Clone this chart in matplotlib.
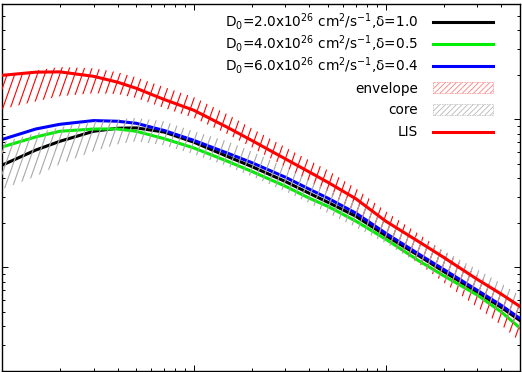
import numpy as np
import matplotlib
matplotlib.use('Agg')
import matplotlib.pyplot as plt
from matplotlib.collections import LineCollection
from matplotlib.lines import Line2D
from matplotlib.patches import Rectangle

# energies (x axis, log scale)
energy = [1, 1.5, 2, 3, 4, 5, 7, 10, 15, 20, 30, 40, 50, 70, 100, 150, 200, 300, 400, 500]

# model curves
d2_delta10 = [4.9, 6.2, 7.1, 8.3, 8.7, 8.75, 8.2, 7.0, 5.6, 4.8, 3.8, 3.16, 2.75, 2.21, 1.64, 1.19, 0.94, 0.68, 0.537, 0.438]
d4_delta05 = [6.5, 7.6, 8.3, 8.6, 8.6, 8.3, 7.4, 6.4, 5.2, 4.45, 3.53, 2.93, 2.58, 2.05, 1.55, 1.10, 0.88, 0.65, 0.50, 0.39]
d6_delta04 = [7.3, 8.6, 9.25, 9.8, 9.7, 9.4, 8.4, 7.2, 5.9, 5.1, 4.06, 3.37, 2.93, 2.32, 1.70, 1.22, 0.97, 0.70, 0.554, 0.452]
lis = [19.8, 20.8, 20.9, 19.5, 17.8, 16.2, 13.6, 11.5, 8.8, 7.2, 5.4, 4.4, 3.75, 2.9, 2.05, 1.48, 1.17, 0.83, 0.66, 0.545]

# bands
envelope_hi = [19.8, 21.4, 22.5, 22.1, 20.8, 19.2, 16.5, 14.1, 10.8, 8.7, 6.47, 5.28, 4.52, 3.42, 2.39, 1.67, 1.28, 0.883, 0.678, 0.554]
envelope_lo = [11.7, 13.2, 14.3, 15.0, 14.8, 13.9, 11.9, 10.2, 7.92, 6.47, 4.74, 3.81, 3.16, 2.32, 1.55, 1.05, 0.792, 0.537, 0.406, 0.316]
core_hi = [6.99, 8.04, 8.83, 9.69, 10.0, 10.2, 9.69, 8.30, 7.10, 6.08, 4.74, 3.87, 3.37, 2.75, 2.11, 1.55, 1.30, 0.969, 0.780, 0.647]
core_lo = [3.37, 4.12, 4.97, 6.08, 6.78, 7.10, 6.67, 5.80, 4.81, 4.12, 3.26, 2.71, 2.32, 1.86, 1.45, 1.05, 0.83, 0.627, 0.489, 0.381]

labels = [r'D$_0$=2.0x10$^{26}$ cm$^2$/s$^{-1}$,δ=1.0',
          r'D$_0$=4.0x10$^{26}$ cm$^2$/s$^{-1}$,δ=0.5',
          r'D$_0$=6.0x10$^{26}$ cm$^2$/s$^{-1}$,δ=0.4',
          'envelope', 'core', 'LIS']

GREEN = '#00ee00'
BLUE = '#0000ff'
RED = '#ff0000'
GREY = '#a8a8a8'

plt.rcParams['font.family'] = ['DejaVu Sans']
plt.rcParams['mathtext.default'] = 'regular'
plt.rcParams['hatch.linewidth'] = 0.6


def hatch_band(ax, x, lo, hi, color, spacing=0.0145, lean=0.25, lw=0.8, zorder=3):
    poly = ax.fill_between(x, lo, hi, facecolor='none', edgecolor='none', zorder=zorder)
    starts = np.arange(-lean, 1.0 + spacing, spacing)
    segs = [[(s, 0.0), (s + lean, 1.0)] for s in starts]
    lc = LineCollection(segs, colors=color, linewidths=lw, transform=ax.transAxes, zorder=zorder)
    ax.add_collection(lc, autolim=False)
    lc.set_clip_path(poly.get_paths()[0], poly.get_transform())


fig = plt.figure(figsize=(5.22, 3.72), dpi=100)
ax = fig.add_axes([2/522, 1/372, 518/522, 367/372])

ax.plot(energy, d2_delta10, color='black', lw=2.2, zorder=2)
ax.plot(energy, d4_delta05, color=GREEN, lw=2.2, zorder=2)
ax.plot(energy, d6_delta04, color=BLUE, lw=2.2, zorder=2)
hatch_band(ax, energy, envelope_lo, envelope_hi, RED, zorder=3)
hatch_band(ax, energy, core_lo, core_hi, GREY, zorder=3)
ax.plot(energy, lis, color=RED, lw=2.2, zorder=4)

ax.set_xscale('log')
ax.set_yscale('log')
ax.set_xlim(1, 500)
ax.set_ylim(0.2, 60)
ax.tick_params(which='both', direction='in', top=True, right=True,
               labelbottom=False, labelleft=False, width=0.7)
ax.tick_params(which='major', length=4.5)
ax.tick_params(which='minor', length=2.5)
for sp in ax.spines.values():
    sp.set_linewidth(1.0)

# key, gnuplot style: text right-aligned, sample to the right
W, H = 518.0, 367.0
def fx(px):
    return (px - 2) / W
def fy(py):
    return (371 - py) / H

samples = [('line', 'black'), ('line', GREEN), ('line', BLUE),
           ('box', '#ff8080'), ('box', '#b8b8b8'), ('line', RED)]
for i, (label, (kind, col)) in enumerate(zip(labels, samples)):
    yc = 21.5 + 22 * i
    ax.text(fx(418), fy(yc + 5), label, transform=ax.transAxes, ha='right',
            va='baseline', fontsize=9.8, zorder=6)
    if kind == 'line':
        ax.add_line(Line2D([fx(433), fx(493)], [fy(yc), fy(yc)], color=col, lw=2.2,
                           transform=ax.transAxes, zorder=6))
    else:
        ax.add_patch(Rectangle((fx(433), fy(yc + 5.5)), 60 / W, 11 / H, transform=ax.transAxes,
                               facecolor='none', edgecolor=col, hatch='//////', lw=0.6,
                               linestyle=(0, (1, 1)), zorder=6))

fig.savefig('out.png', dpi=100)
